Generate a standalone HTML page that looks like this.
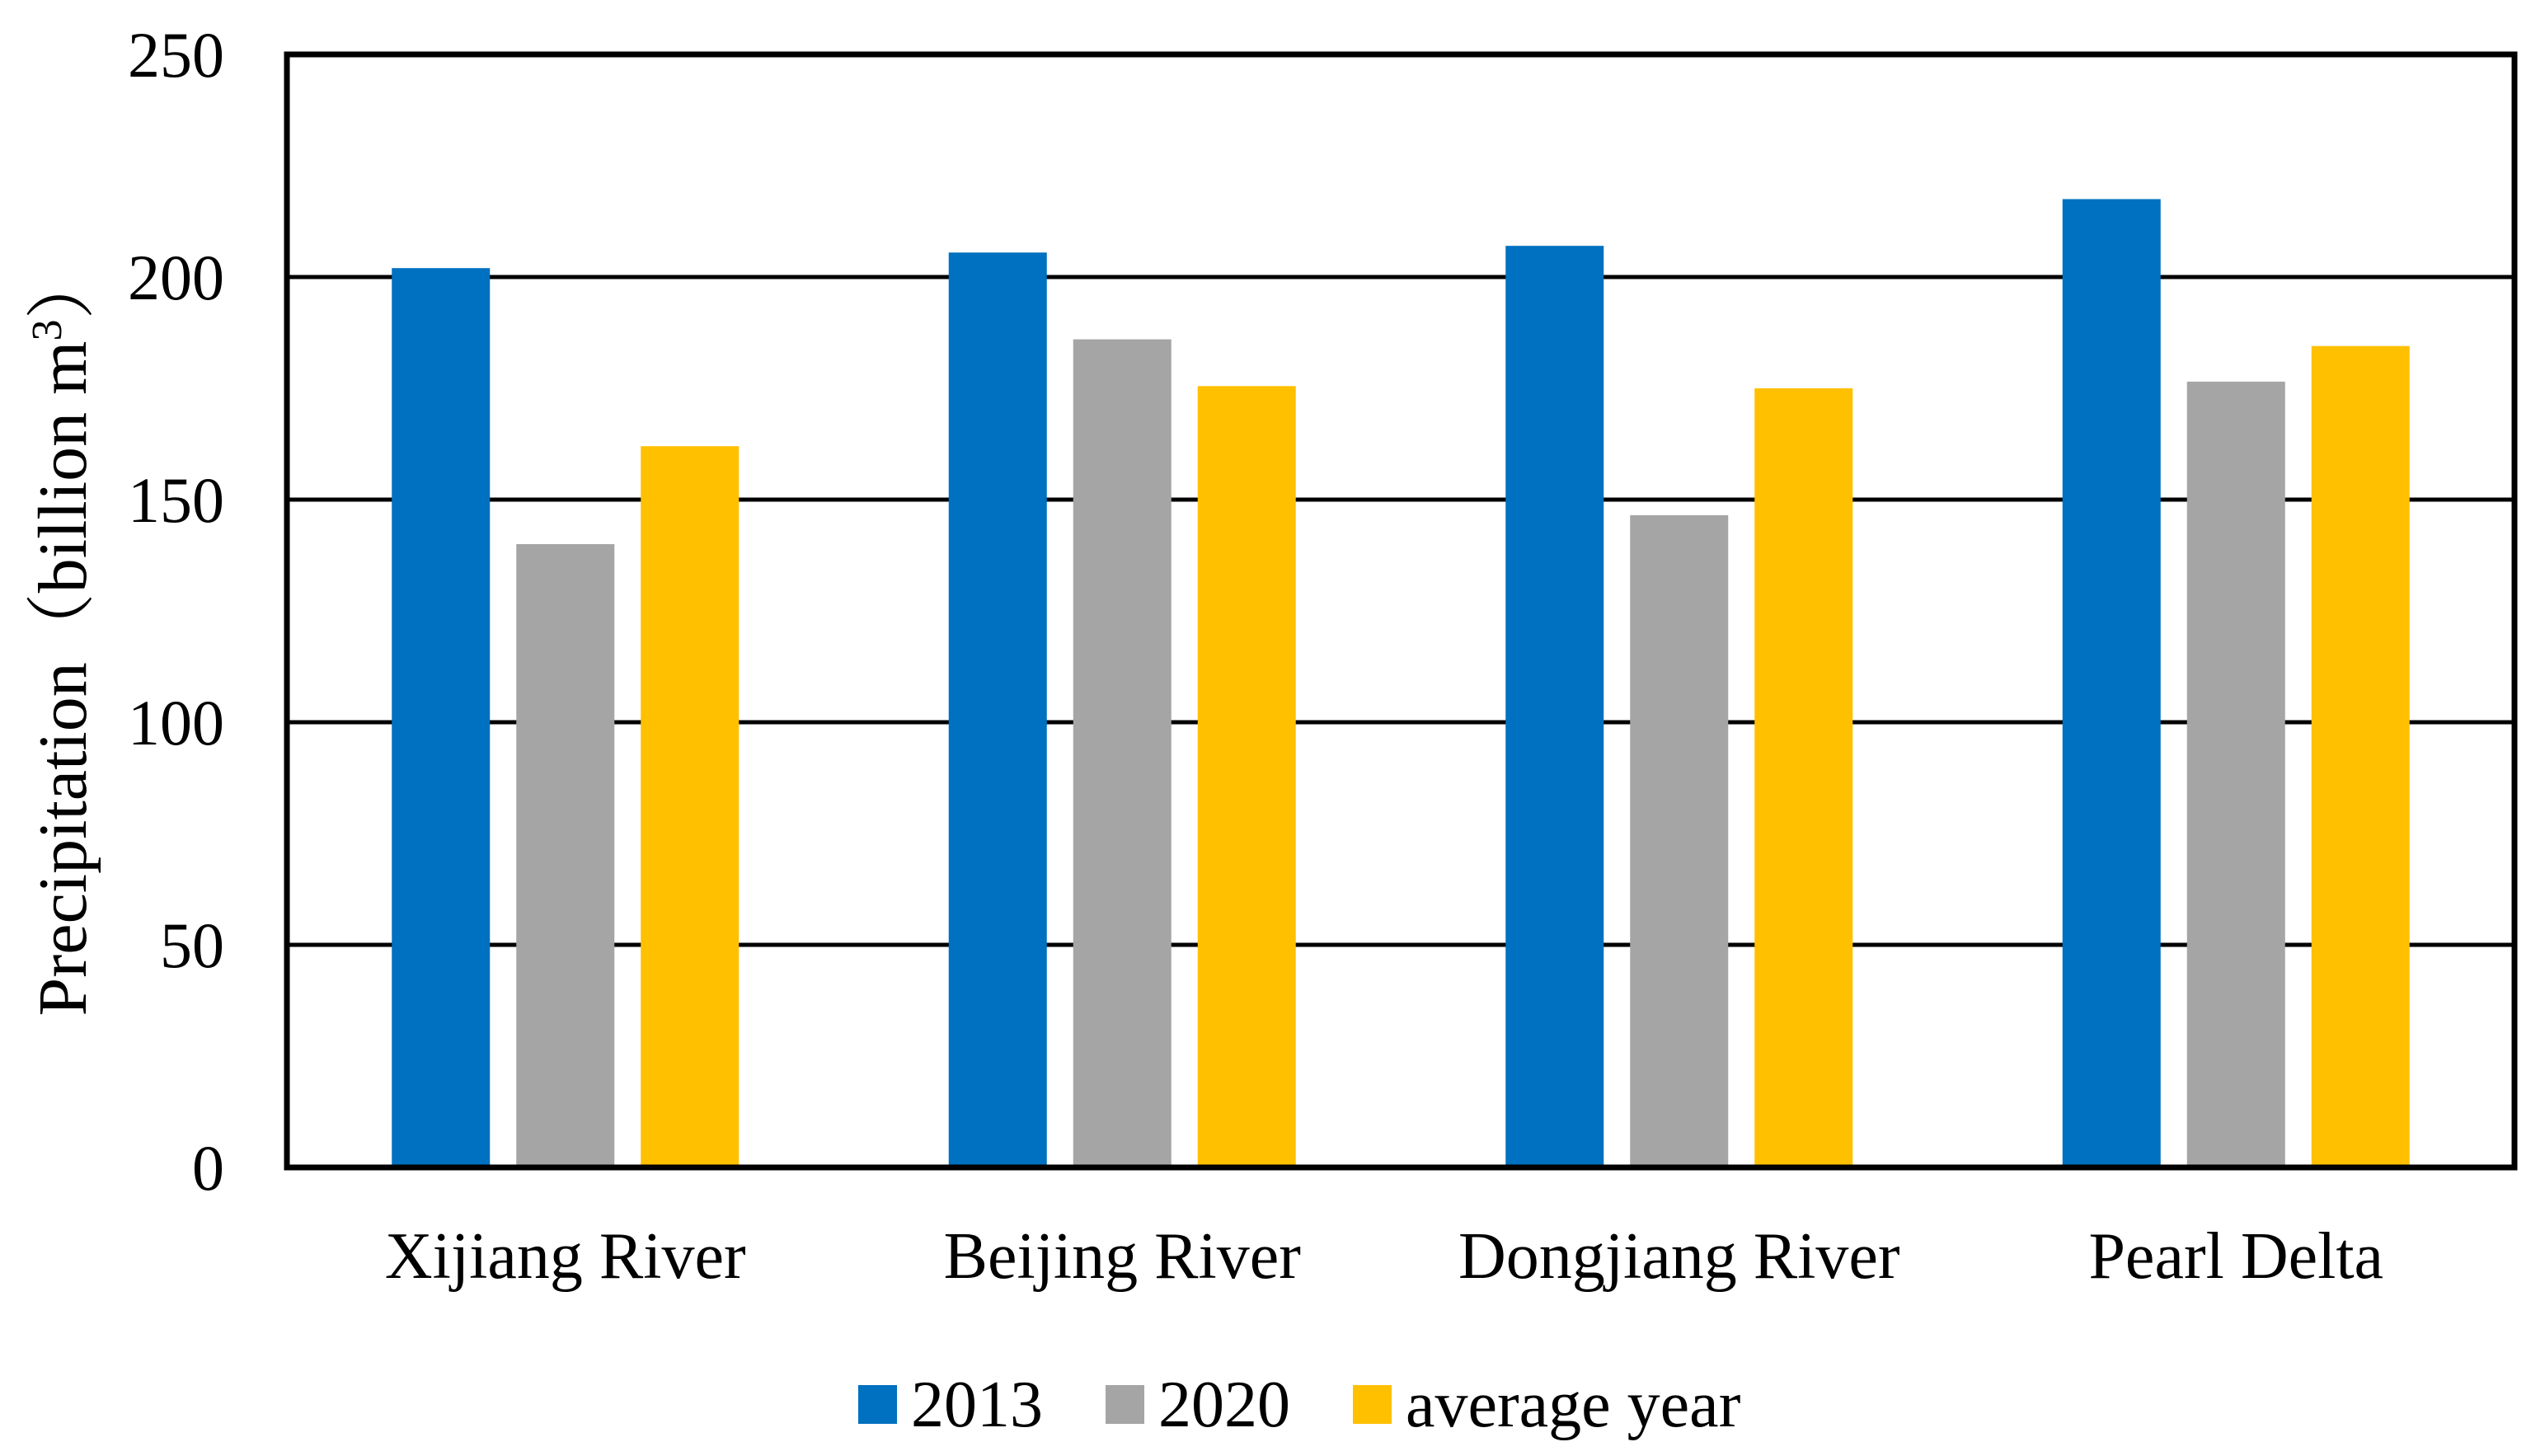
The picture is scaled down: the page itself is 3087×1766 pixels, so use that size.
<!DOCTYPE html>
<html><head><meta charset="utf-8"><style>
html,body{margin:0;padding:0;background:#fff;}
svg{display:block;}
text{font-family:"Liberation Serif","Noto Serif CJK SC",serif;fill:#000;}
</style></head><body>
<svg id="chart" width="3087" height="1766" viewBox="0 0 3087 1766" xmlns="http://www.w3.org/2000/svg">
<g id="grid"></g>
<g id="bars"></g>
<g id="axes"></g>
<text transform="translate(104,768) rotate(-90)" text-anchor="middle" font-size="84">Precipitation（billion m<tspan font-size="52" dy="-30">3</tspan><tspan dy="30">）</tspan></text>
<g id="legend"></g>
</svg>
<script>
const categories = ["Xijiang River","Beijing River","Dongjiang River","Pearl Delta"];
const seriesNames = ["2013","2020","average year"];
const values2013 = [202, 205.5, 207, 217.5];
const values2020 = [140, 186, 146.5, 176.5];
const valuesAvg = [162, 175.5, 175, 184.5];
const yTicks = [0, 50, 100, 150, 200, 250];
const colors = ["#0070C0","#A5A5A5","#FFC000"];

const NS = "http://www.w3.org/2000/svg";
const L = 348, R = 3050, T = 66, B = 1416, yMax = 250;
const y = v => B - (v / yMax) * (B - T);
const catW = (R - L) / categories.length;
const barW = 119, gap = 32;
const xBar = (ci, si) => L + ci * catW + (catW - (3 * barW + 2 * gap)) / 2 + si * (barW + gap);
function mk(tag, attrs, parent){const e=document.createElementNS(NS,tag);for(const k in attrs)e.setAttribute(k,attrs[k]);parent.appendChild(e);return e;}

const grid = document.getElementById('grid');
yTicks.forEach(t => {
  if (t > 0 && t < yMax) {
    const ln = mk('line',{x1:L,x2:R,y1:y(t),y2:y(t),stroke:'#000','stroke-width':5},grid);
    
    
  }
  const tx = mk('text',{x:272,y:y(t)+27,'text-anchor':'end','font-size':78},grid);
  tx.textContent = t;
  
  
});

const bars = document.getElementById('bars');
const series = [values2013, values2020, valuesAvg];
categories.forEach((c, ci) => {
  series.forEach((s, si) => {
    const r = mk('rect',{x:xBar(ci,si),y:y(s[ci]),width:barW,height:B-y(s[ci]),fill:colors[si]},bars);
    
    
  });
  const tx = mk('text',{x:L+ci*catW+catW/2,y:1550,'text-anchor':'middle','font-size':80},bars);
  tx.textContent = c;
  
  
});

const axes = document.getElementById('axes');
const fr = mk('rect',{x:L,y:T,width:R-L,height:B-T,fill:'none',stroke:'#000','stroke-width':7},axes);



const legend = document.getElementById('legend');
const legX = [1041, 1341, 1641];
seriesNames.forEach((n, i) => {
  const sq = mk('rect',{x:legX[i],y:1680,width:47,height:47,fill:colors[i]},legend);
  
  
  const tx = mk('text',{x:legX[i]+64,y:1730,'font-size':80},legend);
  tx.textContent = n;
  
  
});
</script>
</body></html>
